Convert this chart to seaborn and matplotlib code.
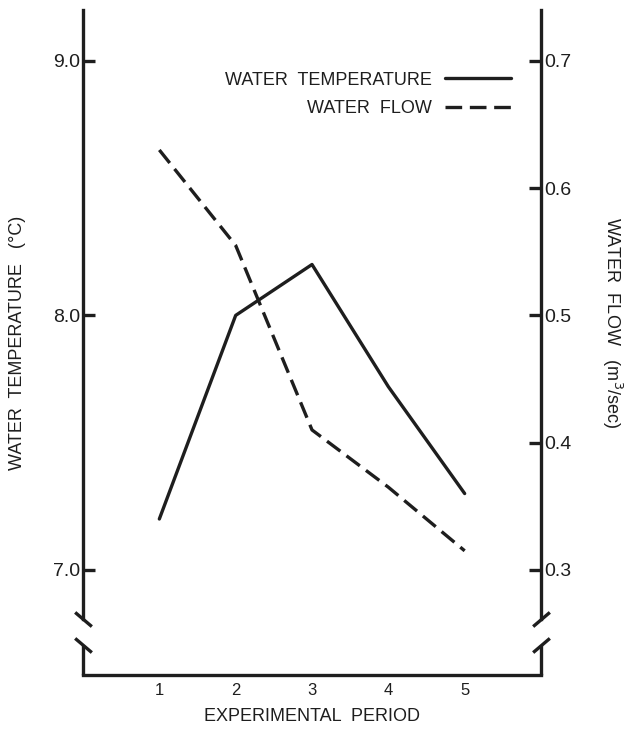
import matplotlib
matplotlib.use("Agg")
import matplotlib.pyplot as plt
import seaborn as sns
import pandas as pd

periods = [1, 2, 3, 4, 5]
water_temp = [7.2, 8.0, 8.2, 7.72, 7.3]
water_flow = [0.63, 0.555, 0.41, 0.365, 0.315]
temp_ticks = [7.0, 8.0, 9.0]
flow_ticks = [0.3, 0.4, 0.5, 0.6, 0.7]

sns.set_style("white")
plt.rcParams["font.family"] = ["Liberation Sans", "DejaVu Sans"]

df = pd.DataFrame({"period": periods, "temp": water_temp, "flow": water_flow})

INK = "#1e1e1e"
LW = 2.4

fig = plt.figure(figsize=(6.3, 7.35), dpi=100)
ax = fig.add_axes([83 / 630, 1 - 675 / 735, (541 - 83) / 630, (675 - 10) / 735])
ax2 = ax.twinx()

T_BOT, T_TOP = 6.587, 9.20
BRK_HI, BRK_LO = 6.807, 6.705
to_flow = lambda t: 0.3 + (t - 7.0) * 0.2

sns.lineplot(data=df, x="period", y="temp", ax=ax, color=INK, lw=LW,
             label="WATER TEMPERATURE", legend=False)
sns.lineplot(data=df, x="period", y="flow", ax=ax2, color=INK, lw=LW,
             label="WATER FLOW", legend=False)
ax2.lines[0].set_dashes((5.0, 2.3))

ax.set_xlim(0, 6)
ax.set_ylim(T_BOT, T_TOP)
ax2.set_ylim(to_flow(T_BOT), to_flow(T_TOP))

ax.set_xticks(periods)
ax.set_xticklabels([str(p) for p in periods])
ax.set_yticks(temp_ticks)
ax.set_yticklabels([f"{t:.1f}" for t in temp_ticks])
ax2.set_yticks(flow_ticks)
ax2.set_yticklabels([f"{f:.1f}" for f in flow_ticks])

for a in (ax, ax2):
    for s in a.spines.values():
        s.set_color(INK)
        s.set_linewidth(LW)
    a.spines["top"].set_visible(False)
ax.spines["right"].set_visible(False)
ax2.spines["left"].set_visible(False)
ax2.spines["bottom"].set_visible(False)
ax.spines["left"].set_bounds(BRK_HI, T_TOP)
ax2.spines["right"].set_bounds(to_flow(BRK_HI), to_flow(T_TOP))

# lower spine pieces below the axis break
ax.plot([0, 0], [T_BOT, BRK_LO], color=INK, lw=LW, clip_on=False, solid_capstyle="butt")
ax.plot([6, 6], [T_BOT, BRK_LO], color=INK, lw=LW, clip_on=False, solid_capstyle="butt")
# break marks
ax.plot([0, 0], [BRK_HI, BRK_LO], linestyle="none", marker=[(-1, 0.85), (1, -0.85)],
        markersize=12, mec=INK, mew=LW, clip_on=False)
ax.plot([6, 6], [BRK_HI, BRK_LO], linestyle="none", marker=[(-1, -0.85), (1, 0.85)],
        markersize=12, mec=INK, mew=LW, clip_on=False)

ax.tick_params(axis="y", direction="in", length=8.5, width=LW, color=INK,
               labelsize=14, pad=2, labelcolor=INK)
ax.tick_params(axis="x", direction="in", length=9.5, width=LW, color=INK,
               labelsize=12, pad=6, labelcolor=INK)
ax2.tick_params(axis="y", direction="in", length=8.5, width=LW, color=INK,
                labelsize=14, pad=2, labelcolor=INK)

ax.set_xlabel("EXPERIMENTAL  PERIOD", fontsize=13, color=INK)
ax.xaxis.set_label_coords(0.5, -0.062)
ax.xaxis.label.set_va("center")
ax.set_ylabel("WATER  TEMPERATURE   (\u00b0C)", fontsize=13, color=INK)
ax.yaxis.set_label_coords(-0.142, 0.5)
ax.yaxis.label.set_va("center")
ax2.set_ylabel("WATER  FLOW   (m$^3$/sec)", fontsize=13, color=INK, rotation=-90)
ax2.yaxis.set_label_coords(1.155, 0.53)
ax2.yaxis.label.set_va("center")

handles = ax.lines[:1] + ax2.lines[:1]
leg = ax2.legend(handles, ["WATER  TEMPERATURE", "WATER  FLOW"], loc="upper right",
                 bbox_to_anchor=(0.95, 0.918), frameon=False, markerfirst=False,
                 fontsize=13, handlelength=3.65, handletextpad=0.75, labelspacing=0.65,
                 borderaxespad=0)
for t in leg.get_texts():
    t.set_color(INK)

fig.savefig("out.png", dpi=100, facecolor="white")
